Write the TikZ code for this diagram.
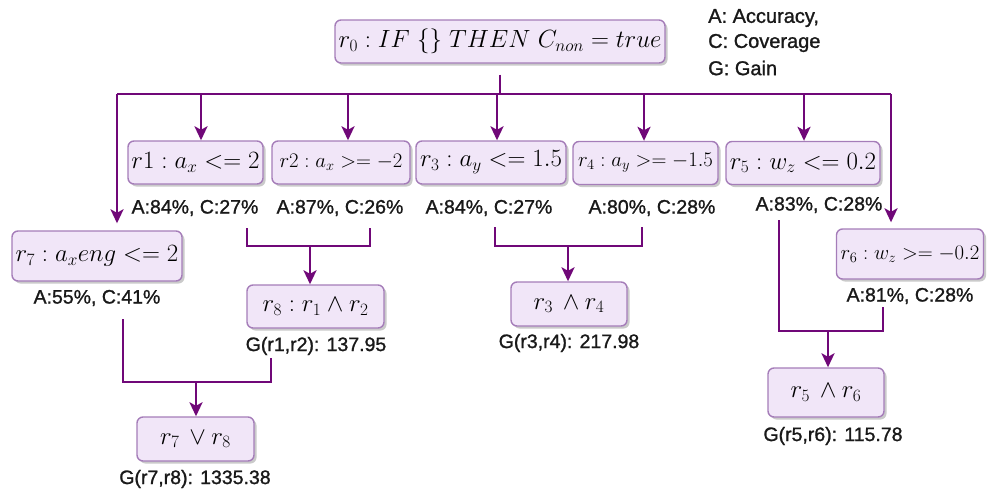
\documentclass[tikz,border=0pt]{standalone}
\usepackage{fontspec}
\newfontfamily\lblfont[BoldFont={Liberation Sans},BoldFeatures={FakeBold=1.2}]{Liberation Sans}
\usetikzlibrary{arrows.meta,shadows}
\definecolor{linec}{RGB}{112,8,120}
\definecolor{boxfill}{RGB}{241,230,248}
\definecolor{boxdraw}{RGB}{165,125,185}
\definecolor{txt}{RGB}{25,25,25}
\begin{document}
\begin{tikzpicture}[x=1pt,y=-1pt,
  rbox/.style={draw=boxdraw, line width=1.4pt, fill=boxfill, rounded corners=6pt,
    inner sep=0pt, minimum height=43pt, font=\fontsize{24}{28}\selectfont,
    drop shadow={shadow xshift=2.5pt, shadow yshift=-2.5pt, opacity=0.35, fill=black!60}},
  smallmath/.style={font=\fontsize{21}{25}\selectfont},
  lbl/.style={font=\lblfont\bfseries\fontsize{19.5}{22}\selectfont, text=txt, inner sep=0pt},
  leg/.style={lbl, anchor=west, font=\lblfont\bfseries\fontsize{20}{22}\selectfont},
  wire/.style={draw=linec, line width=2.4pt},
  arr/.style={wire, -{Stealth[length=14pt,width=13pt,inset=3.5pt]}},
]
\useasboundingbox (0,0) rectangle (990,493);

% boxes
\node[rbox, minimum width=330pt] (r0) at (500,41.5) {$r_0 : IF\ \{\}\ THEN\ C_{non} = true$};
\node[rbox, minimum width=135pt] (r1) at (195.5,162.5) {$r1 : a_x <= 2$};
\node[rbox, smallmath, minimum width=138pt] (r2) at (341,162.5) {$r2 : a_x >= -2$};
\node[rbox, minimum width=150pt] (r3) at (491,162.5) {$r_3 : a_y <= 1.5$};
\node[rbox, smallmath, minimum width=145pt] (r4) at (645.5,163) {$r_4 : a_y >= -1.5$};
\node[rbox, minimum width=154pt] (r5) at (803,163) {$r_5 : w_z <= 0.2$};
\node[rbox, minimum width=170pt, minimum height=50pt] (r7) at (97,256) {$r_7 : a_x eng <= 2$};
\node[rbox, smallmath, minimum width=147pt, minimum height=50pt] (r6) at (910,254) {$r_6 : w_z >= -0.2$};
\node[rbox, minimum width=137pt] (r8) at (315.5,306.5) {$r_8 : r_1 \wedge r_2$};
\node[rbox, minimum width=116pt, minimum height=44pt] (r34) at (569,304) {$r_3\,\wedge r_4$};
\node[rbox, minimum width=116pt, minimum height=49pt] (r56) at (826,392.5) {$r_5\,\wedge r_6$};
\node[rbox, minimum width=117pt, minimum height=44pt] (r78) at (195.5,439) {$r_7\,\vee r_8$};

% legend
\node[leg] (legA) at (708,18) {A: Accuracy,};
\node[leg] (legC) at (708,43) {C: Coverage};
\node[leg] (legG) at (708,68) {G: Gain};

% labels
\node[lbl] (l1) at (195,208) {A:84\%, C:27\%};
\node[lbl] (l2) at (340,208) {A:87\%, C:26\%};
\node[lbl] (l3) at (489,208) {A:84\%, C:27\%};
\node[lbl] (l4) at (652,208) {A:80\%, C:28\%};
\node[lbl] (l5) at (819,205) {A:83\%, C:28\%};
\node[lbl] (l7) at (97,298) {A:55\%, C:41\%};
\node[lbl] (l6) at (910,296) {A:81\%, C:28\%};
\node[lbl] (g12) at (316,346) {G(r1,r2): 137.95};
\node[lbl] (g34) at (569,343) {G(r3,r4): 217.98};
\node[lbl] (g56) at (833,436) {G(r5,r6): 115.78};
\node[lbl] (g78) at (195,479) {G(r7,r8): 1335.38};

% bus
\coordinate (bL) at (117,94);
\coordinate (bR) at (891,94);
\coordinate (b0) at (500,94);
\coordinate (b1) at (201,94);
\coordinate (b2) at (348,94);
\coordinate (b3) at (497,94);
\coordinate (b4) at (644,94);
\coordinate (b5) at (804,94);
\draw[wire, shorten <=11pt] (r0.south) -- (b0);
\draw[wire] (bL) -- (bR);
\draw[arr, shorten >=7pt] (bL) -- (bL |- r7.north);
\draw[arr] (b1) -- (b1 |- r1.north);
\draw[arr] (b2) -- (b2 |- r2.north);
\draw[arr] (b3) -- (b3 |- r3.north);
\draw[arr] (b4) -- (b4 |- r4.north);
\draw[arr] (b5) -- (b5 |- r5.north);
\draw[arr, shorten >=6pt] (bR) -- (bR |- r6.north);

% merges
\coordinate (m1a) at (247,228);
\coordinate (m2a) at (370,228);
\coordinate (j12) at (310,246);
\draw[wire] (m1a) |- (j12) -| (m2a);
\draw[arr] (j12) -- (j12 |- r8.north);

\coordinate (m3a) at (495,227);
\coordinate (m4a) at (642,227);
\coordinate (j34) at (568,246);
\draw[wire] (m3a) |- (j34) -| (m4a);
\draw[arr] (j34) -- (j34 |- r34.north);

\coordinate (m5a) at (779,220);
\coordinate (m6a) at (883,307);
\coordinate (j56) at (828,331);
\draw[wire] (m5a) |- (j56) -| (m6a);
\draw[arr] (j56) -- (j56 |- r56.north);

\coordinate (m7a) at (123,319);
\coordinate (m8a) at (271,358);
\coordinate (j78) at (196,382);
\draw[wire] (m7a) |- (j78) -| (m8a);
\draw[arr] (j78) -- (j78 |- r78.north);
\end{tikzpicture}
\end{document}
